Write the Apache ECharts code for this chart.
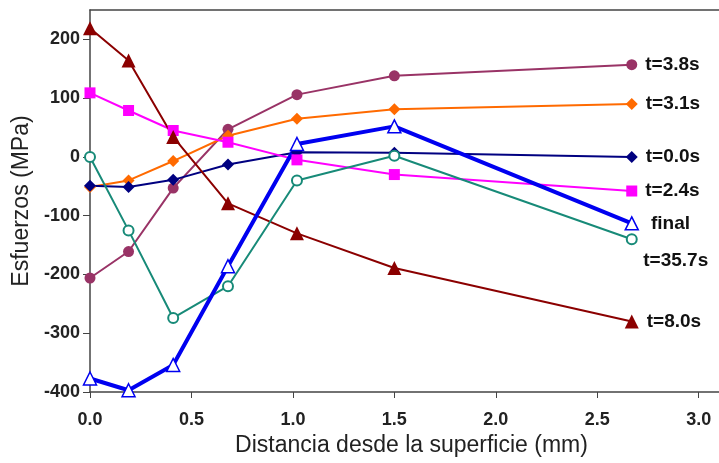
<!DOCTYPE html>
<html><head><meta charset="utf-8">
<script src="https://cdn.jsdelivr.net/npm/echarts@6/dist/echarts.min.js"></script>
<style>html,body{margin:0;padding:0;background:#fff}#c{width:719px;height:463px}</style>
</head><body><div id="c"></div>
<script>
const distances = [0, 0.19, 0.41, 0.68, 1.02, 1.5, 2.67];
const t00 = [-49, -51, -39, -13, 8, 7, 0];
const t24 = [109, 79, 45, 25, -5, -30, -58];
const t31 = [-51, -40, -7, 36, 65, 81, 90];
const t38 = [-206, -161, -53, 47, 106, 138, 157];
const t80 = [219, 164, 34, -79, -130, -189, -280];
const t357 = [0, -125, -274, -220, -40, 2, -140];
const finalVals = [-377, -397, -354, -186, 22, 52, -113];
const seriesNames = ['t=0.0s', 't=2.4s', 't=3.1s', 't=3.8s', 't=8.0s', 't=35.7s', 'final'];

const FONT = 'Liberation Sans, Arial, sans-serif';
const labelFont = {fontFamily: FONT, fontWeight: 'bold', fontSize: 19, color: '#111'};

function build(vals, name, lastLabel) {
  return vals.map((v, i) => {
    const d = {value: [distances[i], v]};
    if (i === vals.length - 1) {
      d.label = Object.assign({show: true, formatter: name, position: 'right', distance: 8}, labelFont, lastLabel || {});
    }
    return d;
  });
}

function mk(name, vals, color, symbol, size, lw, extra, lastLabel) {
  return Object.assign({
    type: 'line', name: name, data: build(vals, name, lastLabel),
    symbol: symbol, symbolSize: size,
    lineStyle: {color: color, width: lw},
    itemStyle: {color: color},
    label: {show: false},
    emphasis: {disabled: true},
    animation: false
  }, extra || {});
}

const chart = echarts.init(document.getElementById('c'));
chart.setOption({
  backgroundColor: '#fff',
  grid: {left: 90, right: 0, top: 10, bottom: 71, containLabel: false},
  xAxis: [{
    type: 'value', min: 0, max: 3.1, interval: 0.5,
    name: 'Distancia desde la superficie (mm)', nameLocation: 'middle', nameGap: 41,
    nameTextStyle: {fontFamily: FONT, fontSize: 23, color: '#222', padding: [0, 0, 0, 14]},
    axisLine: {onZero: false, lineStyle: {color: '#444', width: 1.5}},
    axisTick: {show: true, inside: false, length: 6, lineStyle: {color: '#444'}},
    axisLabel: {showMaxLabel: false, margin: 19, formatter: v => v.toFixed(1), fontFamily: FONT, fontWeight: 'bold', fontSize: 18, color: '#222'},
    splitLine: {show: false}
  }, {
    type: 'value', position: 'top', min: 0, max: 3.1,
    axisLine: {show: true, onZero: false, lineStyle: {color: '#444', width: 1.5}},
    axisTick: {show: false}, axisLabel: {show: false}, splitLine: {show: false}
  }],
  yAxis: {
    type: 'value', min: -400, max: 250, interval: 100,
    name: 'Esfuerzos (MPa)', nameLocation: 'middle', nameGap: 48, nameRotate: 90,
    nameTextStyle: {fontFamily: FONT, fontSize: 23, color: '#222'},
    axisLine: {show: true, onZero: false, lineStyle: {color: '#444', width: 1.5}},
    axisTick: {show: true, length: 7, lineStyle: {color: '#444'}},
    axisLabel: {showMaxLabel: false, margin: 10, fontFamily: FONT, fontWeight: 'bold', fontSize: 18, color: '#222'},
    splitLine: {show: false}
  },
  series: [
    mk(seriesNames[3], t38, '#993366', 'circle', 11, 2),
    mk(seriesNames[2], t31, '#FF6A00', 'diamond', 12, 2),
    mk(seriesNames[0], t00, '#000080', 'diamond', 12, 2),
    mk(seriesNames[1], t24, '#FF00FF', 'rect', 11, 2),
    mk(seriesNames[4], t80, '#8B0000', 'triangle', 14, 2),
    mk(seriesNames[5], t357, '#178A78', 'emptyCircle', 10, 2, {itemStyle: {color: '#178A78', borderWidth: 1}}, {position: 'bottom', distance: 6, offset: [44, 0]}),
    mk(seriesNames[6], finalVals, '#0000F0', 'triangle', 13, 4, {itemStyle: {color: '#fff', borderColor: '#0000F0', borderWidth: 1.5}}, {distance: 12})
  ]
});
</script></body></html>
